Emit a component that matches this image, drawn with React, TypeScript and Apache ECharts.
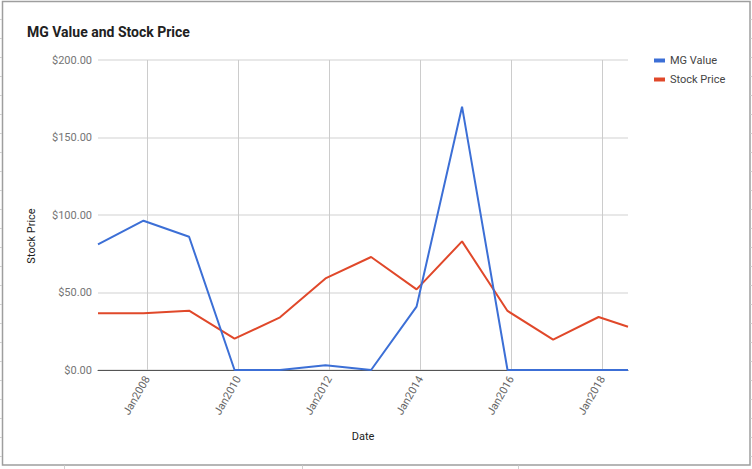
import React, { useEffect, useRef } from "react";
import * as echarts from "echarts";

const dates = [
  "2006-12-01", "2007-12-01", "2008-12-01", "2009-12-01", "2010-12-01",
  "2011-12-01", "2012-12-01", "2013-12-01", "2014-12-01", "2015-12-01",
  "2016-12-01", "2017-12-01", "2018-07-25",
];
const mgValue = [81.1, 96.3, 86.0, 0, 0, 3.0, 0, 40.9, 169.9, 0, 0, 0, 0];
const stockPrice = [36.6, 36.6, 38.3, 20.2, 34.0, 59.1, 72.9, 52.0, 83.0, 38.1, 19.6, 34.2, 27.9];
const tickYears = [2008, 2010, 2012, 2014, 2016, 2018];

const toTs = (s: string) => {
  const [y, m, d] = s.split("-").map(Number);
  return Date.UTC(y, m - 1, d);
};

export default function App() {
  const ref = useRef<HTMLDivElement>(null);
  useEffect(() => {
    document.body.style.margin = "0";
    if (!ref.current) return;
    const chart = echarts.init(ref.current, null, { renderer: "svg" });
    const ts = dates.map(toTs);
    const tickVals = tickYears.map((y) => Date.UTC(y, 0, 1));

    const deco: any[] = [
      {
        type: "rect",
        shape: { x: 2.5, y: 1.5, width: 747.5, height: 463.5 },
        style: { fill: "none", stroke: "#9e9e9e", lineWidth: 1.5 },
        silent: true,
      },
    ];
    for (let k = 0; k < 24; k++) {
      const y = 19.5 + 19 * k;
      deco.push({ type: "line", shape: { x1: 0, y1: y, x2: 2, y2: y }, style: { stroke: "#d0d0d0", lineWidth: 1 }, silent: true });
      deco.push({ type: "line", shape: { x1: 750.5, y1: y, x2: 752, y2: y }, style: { stroke: "#d0d0d0", lineWidth: 1 }, silent: true });
    }
    [64.5, 302.5, 518.5].forEach((x) => {
      deco.push({ type: "line", shape: { x1: x, y1: 465.5, x2: x, y2: 469 }, style: { stroke: "#d0d0d0", lineWidth: 1 }, silent: true });
    });
    deco.push({
      type: "text",
      x: 31.5,
      y: 236,
      rotation: Math.PI / 2,
      style: {
        text: "Stock Price",
        fill: "#222",
        font: "11px Roboto",
        align: "center",
        verticalAlign: "middle",
      },
      silent: true,
    });

    chart.setOption({
      animation: false,
      backgroundColor: "#fff",
      textStyle: { fontFamily: "Roboto" },
      title: {
        text: "MG Value and Stock Price",
        left: 22,
        top: 20,
        textStyle: { fontSize: 14, fontWeight: "bold", color: "#212121", fontFamily: "Roboto" },
      },
      legend: {
        orient: "vertical",
        left: 649,
        top: 50,
        icon: "rect",
        itemWidth: 11,
        itemHeight: 4,
        itemGap: 8,
        textStyle: { fontSize: 11, color: "#444", fontFamily: "Roboto" },
        data: ["MG Value", "Stock Price"],
      },
      grid: { left: 98, right: 124, top: 60, bottom: 99, containLabel: false },
      xAxis: {
        type: "value",
        min: ts[0],
        max: ts[ts.length - 1],
        name: "Date",
        nameLocation: "middle",
        nameGap: 61,
        nameTextStyle: { fontSize: 11, color: "#222", fontFamily: "Roboto" },
        axisLine: { show: true, lineStyle: { color: "#555", width: 1 } },
        axisTick: { show: false, customValues: tickVals },
        axisLabel: {
          customValues: tickVals,
          rotate: 60,
          fontSize: 11,
          color: "#666",
          margin: 7,
          formatter: (v: number) => "Jan" + new Date(v).getUTCFullYear(),
        },
        splitLine: { show: true, lineStyle: { color: "#cccccc", width: 1 } },
      },
      yAxis: {
        type: "value",
        min: 0,
        max: 200,
        interval: 50,
        axisLine: { show: false },
        axisTick: { show: false },
        axisLabel: {
          fontSize: 11,
          color: "#757575",
          margin: 6,
          formatter: (v: number) => "$" + v.toFixed(2),
        },
        splitLine: { show: true, lineStyle: { color: "#e0e0e0", width: 1.5 } },
      },
      series: [
        {
          name: "MG Value",
          type: "line",
          data: ts.map((t, i) => [t, mgValue[i]]),
          showSymbol: false,
          symbol: "none",
          lineStyle: { color: "#3c6fd6", width: 2 },
          itemStyle: { color: "#3c6fd6" },
          z: 3,
        },
        {
          name: "Stock Price",
          type: "line",
          data: ts.map((t, i) => [t, stockPrice[i]]),
          showSymbol: false,
          symbol: "none",
          lineStyle: { color: "#e0482a", width: 2 },
          itemStyle: { color: "#e0482a" },
          z: 2,
        },
      ],
      graphic: deco,
    });
    return () => chart.dispose();
  }, []);
  return (
    <div
      ref={ref}
      style={{ width: 752, height: 469, position: "absolute", left: 0, top: 0 }}
    />
  );
}
